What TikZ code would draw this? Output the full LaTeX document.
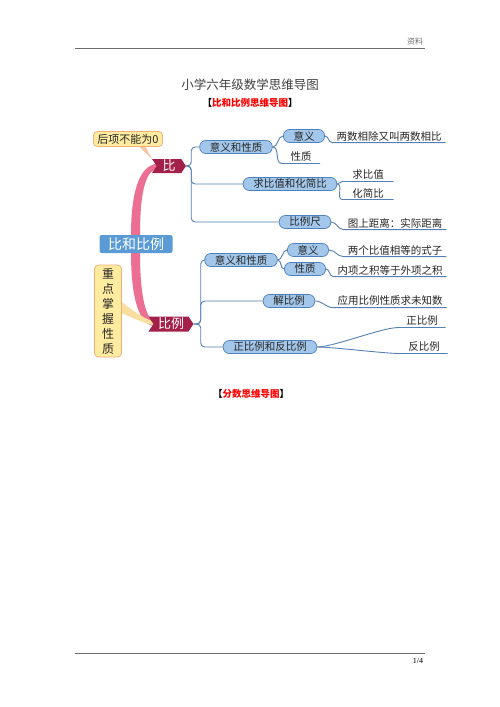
\documentclass[tikz,border=0pt]{standalone}
\usepackage{fontspec}
\setmainfont{Noto Sans CJK SC}
\newfontfamily\pagenumfont{Liberation Serif}
\usetikzlibrary{shapes.symbols,backgrounds,calc}
\definecolor{boxfill}{RGB}{163,199,234}
\definecolor{boxline}{RGB}{79,129,189}
\definecolor{connblue}{RGB}{84,128,180}
\definecolor{tagred}{RGB}{163,32,74}
\definecolor{pinkbr}{RGB}{236,110,146}
\definecolor{topicblue}{RGB}{91,155,213}
\definecolor{notefill}{RGB}{255,236,160}
\definecolor{noteline}{RGB}{240,176,120}
\definecolor{noteconn}{RGB}{246,196,160}
\definecolor{noteconnb}{RGB}{250,222,160}
\definecolor{headgrey}{RGB}{110,110,110}
\definecolor{titlegrey}{RGB}{64,64,64}
\begin{document}
\begin{tikzpicture}[x=1pt,y=-1pt,
	conn/.style={draw=connblue,line width=0.9pt},
	subbox/.style={draw=boxline,fill=boxfill,rounded corners=6pt,line width=0.7pt,inner xsep=10pt,inner ysep=0pt,minimum height=13pt,text=black!85,font=\fontsize{10.5}{12}\selectfont},
	leaf/.style={inner xsep=4pt,inner ysep=1.5pt,text=black!85,font=\fontsize{10.5}{12}\selectfont},
	redtag/.style={signal,signal to=east,signal from=west,signal pointer angle=112,fill=tagred,text=white,inner sep=1pt,font=\fontsize{13}{14}\selectfont},
	notebox/.style={draw=noteline,fill=notefill,rounded corners=4pt,line width=0.8pt,text=black!85}]
	\useasboundingbox (0,0) rectangle (500,707);
	
	% draw page header and footer
	\draw[headgrey,line width=0.8pt] (75,48) -- (425,48);
	\node[text=headgrey,font=\fontsize{8}{9}\selectfont] (ziliao) at (415,41) {资料};
	\draw[headgrey,line width=0.8pt] (75,653) -- (425,653);
	\node[font=\pagenumfont\fontsize{8}{9}\selectfont] (pagenum) at (418,661) {1/4};
	
	% draw titles
	\node[text=titlegrey,font=\fontsize{12.5}{14}\selectfont] (title) at (250,85) {小学六年级数学思维导图};
	\node[font=\bfseries\fontsize{9.5}{11}\selectfont] (subtitle) at (250,103) {【{\color{red}比和比例思维导图}】};
	\node[font=\bfseries\fontsize{9.5}{11}\selectfont] (fenshu) at (251,394) {【{\color{red}分数思维导图}】};
	
	% draw main topic and notes
	\node[fill=topicblue,rounded corners=2pt,minimum width=73pt,minimum height=18pt,inner sep=0pt,text=white,font=\fontsize{14}{15}\selectfont] (bhb) at (136,244) {比和比例};
	\node[notebox,inner xsep=4pt,inner ysep=1pt,minimum height=15pt,font=\fontsize{11}{12}\selectfont] (hou) at (128,139) {后项不能为0};
	\node[notebox,minimum width=27pt,minimum height=92pt,inner sep=0pt,align=center,font=\fontsize{12}{15}\selectfont] (zd) at (108,311) {重\\点\\掌\\握\\性\\质};
	\node[redtag,minimum width=34pt,minimum height=14pt] (bi) at (169,166) {比};
	\node[redtag,minimum width=45pt,minimum height=15pt] (bl) at (171,324) {比例};
	
	% draw branch of bi
	\node[subbox] (yx1) at (236,147) {意义和性质};
	\node[subbox] (yy1) at (304,136) {意义};
	\node[leaf] (t1) at (389,136) {两数相除又叫两数相比};
	\node[leaf,minimum width=38pt] (xz1) at (301,157) {性质};
	\node[subbox] (qb) at (290,184) {求比值和化简比};
	\node[leaf,minimum width=51pt] (qbz) at (368,175) {求比值};
	\node[leaf,minimum width=51pt] (hjb) at (368,193) {化简比};
	\node[subbox] (blc) at (305,222) {比例尺};
	\node[leaf] (tsj) at (395,223) {图上距离：实际距离};
	
	% draw branch of bl
	\node[subbox] (yx2) at (241,260) {意义和性质};
	\node[subbox] (yy2) at (308,250) {意义};
	\node[leaf] (t2) at (395,250) {两个比值相等的式子};
	\node[subbox] (xz2) at (305,269) {性质};
	\node[leaf] (t3) at (390,270) {内项之积等于外项之积};
	\node[subbox] (jbl) at (289,301) {解比例};
	\node[leaf] (t4) at (390,301) {应用比例性质求未知数};
	\node[subbox] (zfb) at (270,347) {正比例和反比例};
	\node[leaf,minimum width=47pt] (zbl) at (422,321) {正比例};
	\node[leaf,minimum width=47pt] (fbl) at (424,347) {反比例};
	
	\begin{scope}[on background layer]
		\fill[white] (0,0) rectangle (500,707);
		
		% draw thick branches from main topic
		\fill[pinkbr] ($(bhb.north)+(-5,1)$) .. controls +(0,-50) and +(-18,0) .. ($(bi.west)+(3,-2.5)$) -- ($(bi.west)+(3,2.5)$) .. controls +(-13,0) and +(0,-48) .. ($(bhb.north)+(4,1)$) -- cycle;
		\fill[pinkbr] ($(bhb.south)+(-5,-1)$) .. controls +(0,55) and +(-14,0) .. ($(bl.west)+(3,2.5)$) -- ($(bl.west)+(3,-2.5)$) .. controls +(-9,0) and +(0,50) .. ($(bhb.south)+(4,-1)$) -- cycle;
		
		% draw note connectors
		\fill[noteconn] ($(hou.south)+(11,-1)$) .. controls +(6,7) and +(-6,-4) .. ($(bi.west)+(4,-0.5)$) -- ($(bi.west)+(4,1.5)$) .. controls +(-7,-4) and +(2,4) .. ($(hou.south)+(17,-1)$) -- cycle;
		\fill[noteconnb] ($(zd.east)+(-1,-10)$) .. controls +(14,12) and +(-10,-3) .. ($(bl.west)+(4,-1)$) -- ($(bl.west)+(4,2)$) .. controls +(-12,-2) and +(10,4) .. ($(zd.east)+(-1,2)$) -- cycle;
	\end{scope}
	
	% draw connectors of bi
	\foreach \c in {yx1,qb,blc}
	{
		\draw[conn,rounded corners=4pt] (bi.east) -- ++(5,0) |- (\c.west);
	}
	\draw[conn] (yx1.east) to[out=0,in=180] (yy1.west);
	\draw[conn] (yx1.east) to[out=0,in=180] (xz1.south west) -- (xz1.south east);
	\draw[conn] (yy1.east) to[out=0,in=180] (t1.south west) -- (t1.south east);
	\draw[conn] (qb.east) to[out=0,in=180] (qbz.south west) -- (qbz.south east);
	\draw[conn] (qb.east) to[out=0,in=180] (hjb.south west) -- (hjb.south east);
	\draw[conn] (blc.east) to[out=0,in=180] (tsj.south west) -- (tsj.south east);
	
	% draw connectors of bl
	\foreach \c in {yx2,jbl,zfb}
	{
		\draw[conn,rounded corners=4pt] (bl.east) -- ++(7,0) |- (\c.west);
	}
	\draw[conn] (yx2.east) to[out=0,in=180] (yy2.west);
	\draw[conn] (yx2.east) to[out=0,in=180] (xz2.west);
	\draw[conn] (yy2.east) to[out=0,in=180] (t2.south west) -- (t2.south east);
	\draw[conn] (xz2.east) to[out=0,in=180] (t3.south west) -- (t3.south east);
	\draw[conn] (jbl.east) to[out=0,in=180] (t4.south west) -- (t4.south east);
	\draw[conn] (zfb.east) to[out=0,in=180,looseness=0.5] (zbl.south west) -- (zbl.south east);
	\draw[conn] (zfb.east) to[out=0,in=180,looseness=0.5] (fbl.south west) -- (fbl.south east);
\end{tikzpicture}
\end{document}
